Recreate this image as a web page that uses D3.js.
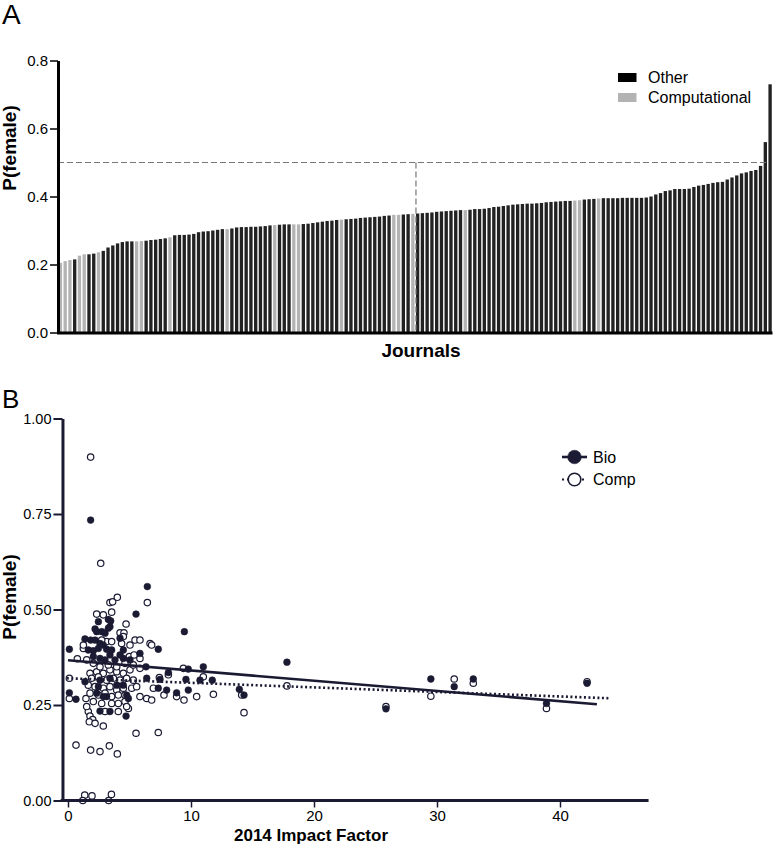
<!DOCTYPE html>
<html><head><meta charset="utf-8">
<script src="https://cdn.jsdelivr.net/npm/d3@7"></script>
<style>
body{margin:0;background:#fff;}
text{font-family:"Liberation Sans",Arial,sans-serif;}
</style></head>
<body><svg id="c" width="776" height="852"></svg>
<script>
// ---------- Panel A data: P(female) per journal, sorted ----------
const journalValues = [0.205,0.21,0.213,0.215,0.226,0.23,0.23,0.232,0.236,0.24,
0.25,0.256,0.262,0.266,0.268,0.268,0.268,0.269,0.27,0.272,
0.273,0.275,0.277,0.28,0.286,0.287,0.287,0.288,0.29,0.295,
0.297,0.298,0.3,0.302,0.304,0.304,0.306,0.309,0.31,0.31,
0.311,0.311,0.312,0.313,0.315,0.316,0.317,0.318,0.318,0.318,
0.318,0.319,0.32,0.322,0.324,0.326,0.328,0.329,0.331,0.332,
0.333,0.334,0.335,0.337,0.338,0.339,0.34,0.341,0.343,0.344,
0.346,0.346,0.347,0.348,0.349,0.35,0.351,0.352,0.353,0.355,
0.356,0.357,0.358,0.359,0.36,0.36,0.361,0.363,0.363,0.364,
0.366,0.369,0.37,0.372,0.374,0.376,0.377,0.378,0.379,0.379,
0.38,0.381,0.383,0.384,0.385,0.386,0.387,0.387,0.388,0.389,
0.391,0.392,0.393,0.394,0.395,0.395,0.395,0.395,0.396,0.396,
0.396,0.396,0.396,0.397,0.4,0.406,0.41,0.416,0.418,0.422,
0.422,0.422,0.423,0.428,0.432,0.434,0.437,0.44,0.442,0.443,
0.45,0.456,0.462,0.468,0.471,0.475,0.478,0.49,0.56,0.73];
// indices of journals that are "Computational"
const computationalIdx = [0,1,2,4,5,8,16,17,23,35,45,49,50,59,70,71,74,85,108,109,113];
const yTicksA = [0,0.2,0.4,0.6,0.8];
const thresholdA = 0.5;
const legendA = ["Other","Computational"];

// ---------- Panel B data ----------
const bioIF = [6.45,5.53,2.47,3.28,3.47,3.41,3.28,2.20,2.33,2.74,3.01,1.38,1.84,2.20,2.60,2.87,2.47,1.65,2.06,3.14,
3.55,4.50,3.41,4.23,4.50,5.85,4.23,9.46,7.34,0.11,2.06,2.60,3.01,3.82,5.04,6.34,11.00,9.78,8.16,6.40,
7.48,1.38,2.60,3.41,9.59,10.73,11.73,7.34,8.02,9.78,8.83,13.93,14.31,0.11,0.65,2.47,3.96,4.50,3.14,4.77,
4.91,2.60,3.41,4.72,2.33,2.87,1.84,17.8,25.85,29.5,31.4,32.95,38.9,42.2];
const bioP = [0.560,0.488,0.468,0.474,0.470,0.455,0.451,0.449,0.442,0.442,0.438,0.423,0.420,0.420,0.411,0.407,0.398,0.394,0.392,0.396,
0.394,0.394,0.381,0.381,0.372,0.385,0.425,0.442,0.396,0.396,0.377,0.372,0.368,0.368,0.368,0.350,0.350,0.344,0.335,0.320,
0.317,0.311,0.315,0.320,0.317,0.315,0.315,0.294,0.289,0.289,0.282,0.291,0.276,0.282,0.265,0.298,0.302,0.302,0.272,0.276,
0.267,0.234,0.233,0.221,0.281,0.272,0.734,0.362,0.240,0.318,0.298,0.318,0.254,0.307];
const compIF = [2.66,6.45,3.41,3.63,4.01,2.33,2.87,3.55,4.72,4.23,4.55,1.25,6.67,6.80,5.85,4.99,5.37,0.76,9.38,8.16,
0.11,7.43,11.00,6.94,7.80,8.83,9.43,10.46,11.82,14.12,14.31,0.11,1.46,5.85,6.40,6.80,7.34,5.53,1.65,1.79,
2.01,1.73,2.20,2.87,3.01,4.09,4.91,0.65,1.84,2.60,3.36,4.01,1.79,2.33,2.87,3.41,3.96,4.50,5.04,1.92,
2.47,3.14,3.69,4.23,4.77,5.31,1.65,2.20,2.87,3.41,3.96,4.50,5.18,5.58,1.79,2.47,3.01,3.55,4.09,4.63,
1.52,2.06,2.60,3.28,3.96,4.63,5.31,5.85,1.52,2.06,2.74,3.55,4.09,4.63,4.77,4.50,4.36,5.04,5.45,3.14,
2.74,3.55,1.25,5.85,1.84,17.8,25.85,29.5,31.4,32.95,38.9,42.2,1.36,1.95,3.53,1.2,3.3];
const compP = [0.621,0.518,0.518,0.520,0.532,0.488,0.486,0.493,0.462,0.439,0.439,0.398,0.411,0.407,0.372,0.377,0.381,0.371,0.346,0.329,
0.320,0.322,0.324,0.294,0.276,0.272,0.263,0.272,0.278,0.276,0.230,0.267,0.267,0.272,0.267,0.263,0.178,0.176,0.233,0.221,
0.212,0.206,0.202,0.195,0.233,0.233,0.241,0.145,0.132,0.128,0.143,0.122,0.333,0.337,0.333,0.342,0.337,0.333,0.342,0.320,
0.324,0.315,0.320,0.315,0.320,0.315,0.302,0.298,0.294,0.298,0.289,0.294,0.294,0.298,0.281,0.276,0.281,0.272,0.276,0.276,
0.368,0.359,0.350,0.355,0.350,0.359,0.355,0.346,0.246,0.259,0.254,0.254,0.254,0.259,0.246,0.429,0.411,0.407,0.420,0.416,
0.420,0.416,0.407,0.420,0.899,0.300,0.246,0.273,0.318,0.307,0.241,0.311,0.014,0.012,0.016,0.0,0.0];
const bioFit = [[0,0.367],[43,0.252]];
const compFit = [[-0.1,0.32],[44.1,0.2675]];
const xTicksB = [0,10,20,30,40];
const yTicksB = [0,0.25,0.5,0.75,1.0];
const legendB = ["Bio","Comp"];

// ---------- drawing ----------
const svg = d3.select("#c");
const navy = "#1a1a33";
const black = "#222222";
const grey = "#b3b3b3";
const compSet = new Set(computationalIdx);
const ids = journalValues.map((d,i)=>i);

// Panel A
const xA = d3.scaleBand().domain(ids).range([58.5,772]).paddingInner(0.3).paddingOuter(0.05);
const yA = d3.scaleLinear().domain([0,0.8]).range([332.5,60.5]);

const gA = svg.append("g");
gA.selectAll("rect.bar").data(journalValues).enter().append("rect")
  .attr("class","bar")
  .attr("x",(d,i)=>xA(i))
  .attr("width",xA.bandwidth())
  .attr("y",d=>yA(d))
  .attr("height",d=>yA(0)-yA(d))
  .attr("fill",(d,i)=>compSet.has(i)?grey:black);

const medIdx = Math.floor(journalValues.length/2);
gA.append("line").attr("x1",58).attr("x2",xA(journalValues.length-2)+xA.bandwidth())
  .attr("y1",yA(thresholdA)).attr("y2",yA(thresholdA))
  .attr("stroke","#777").attr("stroke-width",1.2).attr("stroke-dasharray","6,3");
gA.append("line").attr("x1",xA(medIdx)).attr("x2",xA(medIdx))
  .attr("y1",yA(thresholdA)).attr("y2",yA(0))
  .attr("stroke","#777").attr("stroke-width",1.2).attr("stroke-dasharray","6,3");

const axA = gA.append("g").attr("transform","translate(58,0)")
  .call(d3.axisLeft(yA).tickValues(yTicksA).tickFormat(d3.format(".1f")).tickSize(8).tickSizeOuter(0).tickPadding(2));
axA.select(".domain").attr("stroke","#000").attr("stroke-width",3);
axA.selectAll(".tick line").attr("stroke","#000").attr("stroke-width",1.5);
axA.selectAll(".tick text").attr("font-size",15).attr("fill","#000");
const axAx = gA.append("g").attr("transform","translate(0,332.5)")
  .call(d3.axisBottom(d3.scaleLinear().domain([0,1]).range([56.5,772])).tickValues([]).tickSizeOuter(0));
axAx.select(".domain").attr("stroke","#000").attr("stroke-width",3);

gA.append("text").attr("x",2).attr("y",24).attr("font-size",28).text("A");
gA.append("text").attr("transform","translate(16,148) rotate(-90)").attr("text-anchor","middle")
  .attr("font-size",19).attr("font-weight","bold").text("P(female)");
gA.append("text").attr("x",421).attr("y",357).attr("text-anchor","middle")
  .attr("font-size",19).attr("font-weight","bold").text("Journals");

const legA = gA.append("g").attr("transform","translate(618,73)");
legendA.forEach((t,i)=>{
  legA.append("rect").attr("x",0).attr("y",i*20).attr("width",18.5).attr("height",9).attr("fill",i===0?"#000":grey);
  legA.append("text").attr("x",30).attr("y",i*20+9.5).attr("font-size",16).text(t);
});

// Panel B
const xB = d3.scaleLinear().domain([0,40]).range([68,560]);
const yB = d3.scaleLinear().domain([0,1]).range([800.5,418.5]);
const gB = svg.append("g");

const comp = compIF.map((v,i)=>({x:v,y:compP[i]}));
const bio = bioIF.map((v,i)=>({x:v,y:bioP[i]}));

gB.selectAll("circle.comp").data(comp).enter().append("circle")
  .attr("cx",d=>xB(d.x)).attr("cy",d=>yB(d.y)).attr("r",3.2)
  .attr("fill","#fff").attr("stroke",navy).attr("stroke-width",1.2);
gB.selectAll("circle.bio").data(bio).enter().append("circle")
  .attr("cx",d=>xB(d.x)).attr("cy",d=>yB(d.y)).attr("r",3.4)
  .attr("fill",navy).attr("stroke",navy).attr("stroke-width",0.5);

const line = d3.line().x(d=>xB(d[0])).y(d=>yB(d[1]));
gB.append("path").attr("d",line(bioFit)).attr("stroke",navy).attr("stroke-width",2.6).attr("fill","none");
gB.append("path").attr("d",line(compFit)).attr("stroke",navy).attr("stroke-width",2.6)
  .attr("stroke-dasharray","2,2.5").attr("fill","none");

const axBy = gB.append("g").attr("transform",`translate(${xB(-0.45)},0)`)
  .call(d3.axisLeft(yB).tickValues(yTicksB).tickFormat(d3.format(".2f")).tickSize(9).tickSizeOuter(0).tickPadding(2));
axBy.select(".domain").attr("stroke",navy).attr("stroke-width",3);
axBy.selectAll(".tick line").attr("stroke",navy).attr("stroke-width",2);
axBy.selectAll(".tick text").attr("font-size",14.5).attr("fill","#000");

const axBx = gB.append("g").attr("transform",`translate(0,${yB(0)})`)
  .call(d3.axisBottom(xB).tickValues(xTicksB).tickSize(7).tickSizeOuter(0).tickPadding(3));
axBx.select(".domain").attr("stroke",navy).attr("stroke-width",3)
  .attr("d",`M${xB(-0.6)},0H${xB(47.2)}`);
axBx.selectAll(".tick line").attr("stroke",navy).attr("stroke-width",1.5);
axBx.selectAll(".tick text").attr("font-size",15).attr("fill","#000");

gB.append("text").attr("x",2).attr("y",408).attr("font-size",26).text("B");
gB.append("text").attr("transform","translate(16,597) rotate(-90)").attr("text-anchor","middle")
  .attr("font-size",19).attr("font-weight","bold").text("P(female)");
gB.append("text").attr("x",311).attr("y",841).attr("text-anchor","middle")
  .attr("font-size",17).attr("font-weight","bold").text("2014 Impact Factor");

const legB = gB.append("g").attr("transform","translate(562,457)");
legendB.forEach((t,i)=>{
  const y = i*22.5;
  legB.append("line").attr("x1",0).attr("x2",25).attr("y1",y).attr("y2",y)
    .attr("stroke",navy).attr("stroke-width",i===0?2.6:2.2).attr("stroke-dasharray",i===0?null:"2,3");
  legB.append("circle").attr("cx",12.5).attr("cy",y).attr("r",i===0?6.8:6.3)
    .attr("fill",i===0?navy:"#fff").attr("stroke",navy).attr("stroke-width",i===0?0.5:1.6);
  legB.append("text").attr("x",31).attr("y",y+5.5).attr("font-size",16).text(t);
});
</script></body></html>
